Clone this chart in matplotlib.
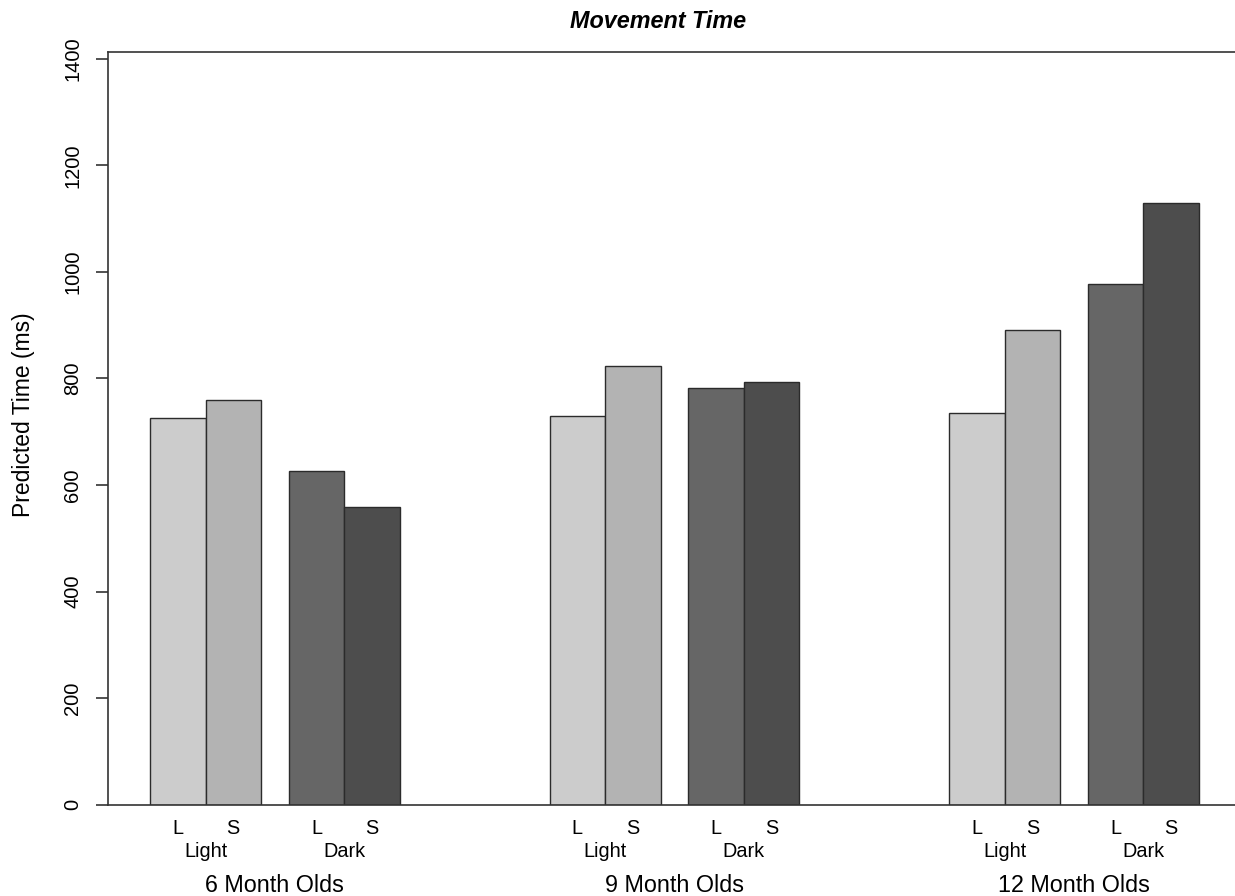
import matplotlib
matplotlib.use("Agg")
import matplotlib.pyplot as plt
import numpy as np

plt.rcParams['font.family'] = ['Liberation Sans', 'DejaVu Sans']

# --- data ---
groups = ["6 Month Olds", "9 Month Olds", "12 Month Olds"]
conditions = ["Light", "Dark"]
sizes = ["L", "S"]
light_L = [725, 730, 735]
light_S = [760, 823, 891]
dark_L = [626, 782, 977]
dark_S = [559, 794, 1130]

series = [light_L, light_S, dark_L, dark_S]
colors = ['#cccccc', '#b3b3b3', '#666666', '#4d4d4d']

# layout (bar width = 1 unit)
bar_offsets = np.array([0.5, 1.5, 3.0, 4.0])   # centers within a group
group_step = 7.2

fig = plt.figure(figsize=(12.35, 8.96), dpi=100)
W, H = 1235, 896
ax = fig.add_axes([108 / W, 1 - 804.7 / H, 1 - 108 / W, (804.7 - 52.3) / H])

centers = []
for g in range(len(groups)):
    xs = g * group_step + bar_offsets
    for i, vals in enumerate(series):
        ax.bar(xs[i], vals[g], width=1.0, color=colors[i], edgecolor='#2b2b2b', linewidth=1.0)
    centers.extend(xs)

ax.set_xlim(-0.757, 19.55)
ax.set_ylim(0, 1412)

# L / S labels as x ticks
ax.set_xticks(centers)
ax.set_xticklabels(sizes * (len(centers) // 2))
ax.tick_params(axis='x', length=0, pad=10, labelsize=14.3)

# condition and group labels
trans = ax.get_xaxis_transform()
for g, name in enumerate(groups):
    base = g * group_step
    ax.text(base + 1.0, -0.0694, conditions[0], transform=trans, ha='center', va='baseline', fontsize=14.3)
    ax.text(base + 3.5, -0.0694, conditions[1], transform=trans, ha='center', va='baseline', fontsize=14.3)
    ax.text(base + 2.25, -0.1155, name, transform=trans, ha='center', va='baseline', fontsize=16.8)

# y axis
ax.set_yticks(np.arange(0, 1401, 200))
ax.tick_params(axis='y', length=8.6, width=1.2, color='#333333', labelsize=14.5, pad=10)
for lbl in ax.get_yticklabels():
    lbl.set_rotation(90)
    lbl.set_va('center')
ax.set_ylabel("Predicted Time (ms)", fontsize=16.5)
ax.yaxis.set_label_coords(-0.0648, 0.518)

for side in ['left', 'top', 'bottom']:
    ax.spines[side].set_linewidth(1.2)
    ax.spines[side].set_color('#333333')
ax.spines['right'].set_visible(False)
ax.spines['bottom'].set_position(('data', 0))

fig.text(658 / W, 1 - 28 / H, "Movement Time", ha='center', va='baseline',
         fontsize=16.8, fontweight='bold', fontstyle='italic')

fig.savefig("out.png", dpi=100)
